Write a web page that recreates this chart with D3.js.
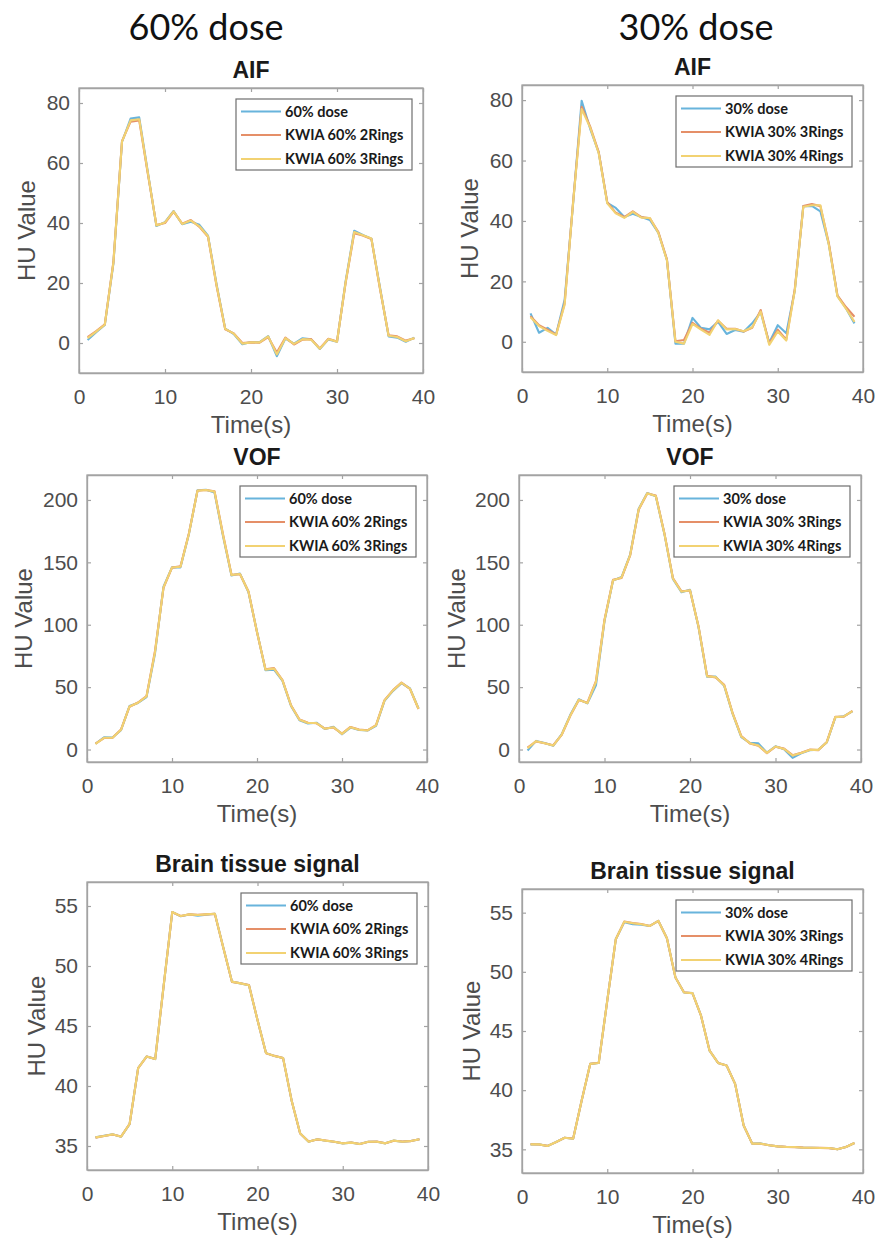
<!DOCTYPE html>
<html><head><meta charset="utf-8">
<script src="https://cdn.jsdelivr.net/npm/d3@7"></script>
<style>body{margin:0;background:#fff;} svg{display:block;}</style>
</head><body>
<svg id="chart" width="880" height="1243"></svg>
<script>
// ---------------- DATA ----------------
const timeS = [1,2,3,4,5,6,7,8,9,10,11,12,13,14,15,16,17,18,19,20,21,22,23,24,25,26,27,28,29,30,31,32,33,34,35,36,37,38,39];
const columnTitles = ["60% dose", "30% dose"];
const panelTitles = ["AIF", "AIF", "VOF", "VOF", "Brain tissue signal", "Brain tissue signal"];
const legend60 = ["60% dose", "KWIA 60% 2Rings", "KWIA 60% 3Rings"];
const legend30 = ["30% dose", "KWIA 30% 3Rings", "KWIA 30% 4Rings"];
const xTicks = [0, 10, 20, 30, 40];
const aifTicks = [0, 20, 40, 60, 80];
const vofTicks = [0, 50, 100, 150, 200];
const brainTicks = [35, 40, 45, 50, 55];
const xLabel = "Time(s)";
const yLabel = "HU Value";

// AIF, 60% dose column
const aif60Dose  = [1.0,3.6,6.0,26.5,67.0,74.8,75.2,57.0,39.0,40.3,44.0,39.6,40.4,39.4,35.8,19.5,4.8,3.0,-0.4,0.3,0.3,2.3,-4.4,1.5,-0.2,1.6,1.2,-2.0,1.2,0.4,20.5,37.4,36.0,34.8,18.5,2.2,1.8,0.4,1.8];
const aif60Kwia2 = [2.0,4.0,6.2,27.0,67.3,73.8,74.2,56.5,39.3,40.0,43.8,39.8,41.0,38.7,35.4,19.0,4.6,3.2,0.0,0.2,0.1,2.0,-3.2,1.8,-0.5,1.1,1.3,-1.8,1.4,0.5,20.0,36.6,35.8,34.7,18.0,2.6,2.2,0.8,1.6];
const aif60Kwia3 = [1.6,3.8,6.1,26.8,67.1,74.2,74.6,56.8,39.2,40.2,43.9,39.7,40.8,38.9,35.6,19.2,4.7,3.1,-0.2,0.2,0.2,2.2,-3.8,1.6,-0.3,1.3,1.1,-1.9,1.3,0.4,20.2,37.0,35.9,34.8,18.2,2.4,2.0,0.6,1.7];
// AIF, 30% dose column
const aif30Dose  = [9.4,3.0,4.6,2.4,13.9,46.0,79.8,70.5,62.6,46.0,44.3,41.3,42.4,41.3,40.3,36.0,27.1,-0.6,-0.6,7.9,4.6,4.1,6.6,2.6,3.9,3.3,6.1,9.8,-0.3,5.5,2.8,17.0,44.9,45.0,43.2,32.1,15.2,11.1,6.1];
const aif30Kwia3 = [8.5,5.5,4.0,2.4,12.7,46.5,77.8,71.2,62.8,46.2,42.7,41.3,43.2,41.3,40.9,36.3,27.3,0.2,0.6,6.3,4.3,3.0,7.0,4.3,4.3,3.4,4.6,10.5,-0.6,4.0,0.7,17.5,44.9,45.6,44.9,32.5,15.4,11.5,8.3];
const aif30Kwia4 = [8.1,5.2,3.6,2.2,12.3,46.2,77.0,70.9,62.4,45.8,42.5,41.0,43.0,41.1,41.0,36.0,27.0,0.0,-0.6,5.9,4.0,2.3,7.1,4.1,4.2,3.5,4.8,10.0,-1.0,3.4,0.4,17.0,44.7,45.2,45.2,32.0,15.0,11.0,6.6];
// VOF, 60% dose column
const vof60Dose  = [4.6,9.8,9.6,15.5,34.8,37.3,42.0,77.0,130.5,146.0,146.0,173.0,207.8,208.2,206.0,171.0,139.5,141.0,126.0,94.5,63.5,64.0,55.0,35.0,23.5,20.8,21.5,16.4,18.3,12.2,17.6,15.6,15.2,19.0,39.0,47.0,53.2,48.9,32.9];
const vof60Kwia2 = [4.8,9.2,9.4,16.0,34.3,37.7,42.8,79.0,129.5,145.8,146.8,173.6,207.4,208.0,207.0,172.5,140.0,140.5,126.6,94.0,64.3,65.2,55.6,35.5,24.0,21.4,21.0,16.8,17.6,12.8,18.1,16.0,15.4,19.5,39.6,47.6,53.6,48.6,32.5];
const vof60Kwia3 = [4.6,9.4,9.4,15.8,34.5,37.5,42.6,78.0,129.9,145.9,146.5,173.2,207.5,208.0,206.7,171.9,139.8,140.6,126.4,94.2,64.0,64.8,55.4,35.3,23.8,21.2,21.2,16.6,17.9,12.6,17.9,15.8,15.3,19.3,39.4,47.4,53.5,48.7,32.7];
// VOF, 30% dose column
const vof30Dose  = [-0.8,6.9,5.3,3.0,12.3,27.8,40.3,37.0,51.4,103.0,135.4,138.2,156.2,193.0,205.6,203.0,173.0,136.8,126.0,128.0,98.0,58.3,58.4,51.0,28.3,10.0,5.4,4.9,-2.5,2.6,0.3,-6.7,-3.0,-0.6,-0.2,5.7,25.8,26.7,30.6];
const vof30Kwia3 = [1.5,6.5,5.0,3.4,11.8,27.0,39.6,37.5,54.8,104.0,136.0,137.5,155.5,192.2,205.2,203.6,173.6,137.5,126.8,127.4,98.6,59.0,57.8,51.8,28.9,10.8,4.9,3.0,-2.9,2.2,0.7,-4.5,-2.5,-0.1,-0.5,6.1,26.2,26.3,31.0];
const vof30Kwia4 = [1.0,6.7,5.1,3.2,12.0,27.3,39.9,37.2,54.1,103.6,135.7,137.9,155.8,192.5,205.4,203.2,173.2,137.1,126.4,127.7,98.3,58.6,58.1,51.4,28.6,10.4,5.1,3.2,-2.7,2.4,0.5,-4.8,-2.7,-0.3,-0.3,5.9,26.0,26.5,30.8];
// Brain tissue signal, 60% dose column
const brain60Dose  = [35.72,35.85,35.97,35.78,36.82,41.50,42.46,42.24,48.40,54.50,54.14,54.30,54.20,54.28,54.35,51.50,48.70,48.55,48.40,45.50,42.74,42.50,42.33,38.80,36.06,35.36,35.56,35.44,35.36,35.22,35.28,35.17,35.36,35.35,35.22,35.45,35.36,35.42,35.56];
const brain60Kwia2 = [35.70,35.84,35.96,35.79,36.85,41.48,42.45,42.25,48.40,54.48,54.17,54.30,54.26,54.30,54.34,51.50,48.68,48.56,48.41,45.50,42.73,42.51,42.33,38.80,36.05,35.37,35.55,35.46,35.35,35.23,35.29,35.16,35.35,35.37,35.23,35.44,35.37,35.41,35.57];
const brain60Kwia3 = [35.72,35.84,35.97,35.78,36.84,41.49,42.46,42.24,48.40,54.50,54.16,54.30,54.25,54.30,54.35,51.50,48.70,48.55,48.40,45.50,42.74,42.50,42.33,38.80,36.06,35.36,35.56,35.45,35.36,35.22,35.28,35.17,35.36,35.36,35.22,35.45,35.36,35.42,35.56];
// Brain tissue signal, 30% dose column
const brain30Dose  = [35.42,35.42,35.28,35.62,35.98,35.90,39.13,42.22,42.30,47.56,52.75,54.20,54.02,53.98,53.88,54.30,52.84,49.52,48.26,48.20,46.29,43.34,42.30,42.08,40.53,37.02,35.48,35.50,35.34,35.25,35.20,35.20,35.14,35.14,35.11,35.11,35.00,35.20,35.53];
const brain30Kwia3 = [35.43,35.41,35.29,35.61,35.98,35.91,39.13,42.22,42.31,47.55,52.75,54.24,54.12,54.04,53.88,54.30,52.84,49.52,48.27,48.19,46.29,43.35,42.30,42.08,40.53,37.02,35.49,35.47,35.35,35.25,35.21,35.19,35.15,35.13,35.12,35.10,35.01,35.20,35.53];
const brain30Kwia4 = [35.42,35.42,35.28,35.62,35.98,35.90,39.13,42.22,42.30,47.56,52.75,54.24,54.10,54.02,53.88,54.30,52.84,49.52,48.26,48.20,46.29,43.34,42.30,42.08,40.53,37.02,35.48,35.48,35.34,35.25,35.20,35.20,35.14,35.14,35.11,35.11,35.00,35.20,35.53];

const seriesColors = ["#68b4dc", "#e58f68", "#f2d272"];

// ---------------- LAYOUT ----------------
const panels = [
  {box:[79, 88, 423, 373],  yDom:[-10, 85], yTicks:aifTicks,  title:panelTitles[0], legend:legend60, series:[aif60Dose, aif60Kwia2, aif60Kwia3], yLabX:44},
  {box:[522, 85, 863, 372], yDom:[-10, 85], yTicks:aifTicks,  title:panelTitles[1], legend:legend30, series:[aif30Dose, aif30Kwia3, aif30Kwia4], yLabX:44},
  {box:[87, 475, 427, 762], yDom:[-10, 220], yTicks:vofTicks, title:panelTitles[2], legend:legend60, series:[vof60Dose, vof60Kwia2, vof60Kwia3], yLabX:55},
  {box:[519, 475, 861, 762],yDom:[-10, 220], yTicks:vofTicks, title:panelTitles[3], legend:legend30, series:[vof30Dose, vof30Kwia3, vof30Kwia4], yLabX:54},
  {box:[87, 882, 428, 1170],yDom:[33, 57], yTicks:brainTicks, title:panelTitles[4], legend:legend60, series:[brain60Dose, brain60Kwia2, brain60Kwia3], yLabX:42},
  {box:[522, 889, 863, 1173],yDom:[33, 57], yTicks:brainTicks,title:panelTitles[5], legend:legend30, series:[brain30Dose, brain30Kwia3, brain30Kwia4], yLabX:42}
];
const headerPos = [[206, 40], [696, 40]];

const svg = d3.select("#chart");
const AX = "Liberation Sans, Arial, sans-serif";
const boxColor = "#a3a3a3";
const txtColor = "#4d4d4d";

svg.selectAll("text.colhead").data(columnTitles).join("text")
  .attr("class", "colhead")
  .attr("x", (d, i) => headerPos[i][0]).attr("y", (d, i) => headerPos[i][1])
  .attr("text-anchor", "middle")
  .style("font-family", "Lato, sans-serif").style("font-size", "36px").style("fill", "#111")
  .text(d => d);

panels.forEach(p => {
  const [x0, y0, x1, y1] = p.box;
  const g = svg.append("g");
  const x = d3.scaleLinear().domain([0, 40]).range([x0, x1]);
  const y = d3.scaleLinear().domain(p.yDom).range([y1, y0]);

  g.append("rect").attr("x", x0).attr("y", y0).attr("width", x1 - x0).attr("height", y1 - y0)
    .attr("fill", "#fff").attr("stroke", boxColor).attr("stroke-width", 1.3);

  const styleAxis = sel => {
    sel.select(".domain").attr("stroke", boxColor).attr("stroke-width", 1.3);
    sel.selectAll(".tick line").attr("stroke", boxColor).attr("stroke-width", 1.2);
    sel.selectAll("text").style("font-family", AX).style("font-size", "21px").style("fill", txtColor);
  };
  g.append("g").attr("transform", `translate(0,${y1})`)
    .call(d3.axisBottom(x).tickValues(xTicks).tickSizeInner(-4).tickSizeOuter(0).tickPadding(16))
    .call(styleAxis);
  g.append("g").attr("transform", `translate(0,${y0})`)
    .call(d3.axisTop(x).tickValues(xTicks).tickSizeInner(-4).tickSizeOuter(0).tickFormat(""))
    .call(styleAxis);
  g.append("g").attr("transform", `translate(${x0},0)`)
    .call(d3.axisLeft(y).tickValues(p.yTicks).tickSizeInner(-4).tickSizeOuter(0).tickPadding(9))
    .call(styleAxis);
  g.append("g").attr("transform", `translate(${x1},0)`)
    .call(d3.axisRight(y).tickValues(p.yTicks).tickSizeInner(-4).tickSizeOuter(0).tickFormat(""))
    .call(styleAxis);

  const line = d3.line().x((d, i) => x(timeS[i])).y(d => y(d));
  p.series.forEach((s, k) => {
    g.append("path").datum(s).attr("d", line)
      .attr("fill", "none").attr("stroke", seriesColors[k]).attr("stroke-width", 2.1)
      .attr("stroke-linejoin", "round");
  });

  g.append("text").attr("x", (x0 + x1) / 2).attr("y", y0 - 10).attr("text-anchor", "middle")
    .style("font-family", AX).style("font-size", "23px").style("font-weight", "bold").style("fill", "#1a1a1a")
    .text(p.title);
  g.append("text").attr("x", (x0 + x1) / 2).attr("y", y1 + 60).attr("text-anchor", "middle")
    .style("font-family", AX).style("font-size", "24px").style("fill", txtColor).text(xLabel);
  g.append("text").attr("transform", `translate(${x0 - p.yLabX},${(y0 + y1) / 2}) rotate(-90)`)
    .attr("text-anchor", "middle")
    .style("font-family", AX).style("font-size", "24px").style("fill", txtColor).text(yLabel);

  const lw = 176, lh = 71;
  const lx = x1 - 11 - lw, ly = y0 + 11;
  const lg = g.append("g").attr("transform", `translate(${lx},${ly})`);
  lg.append("rect").attr("width", lw).attr("height", lh).attr("fill", "#fff")
    .attr("stroke", "#6e6e6e").attr("stroke-width", 1.2);
  const rows = [12.5, 36, 60];
  p.legend.forEach((name, k) => {
    lg.append("line").attr("x1", 5).attr("x2", 45).attr("y1", rows[k]).attr("y2", rows[k])
      .attr("stroke", seriesColors[k]).attr("stroke-width", 2);
    lg.append("text").attr("x", 49).attr("y", rows[k] + 5)
      .style("font-family", "Lato, sans-serif").style("font-size", "14.5px").style("font-weight", "bold")
      .style("fill", "#1a1a1a").text(name);
  });
});
</script>
</body></html>
